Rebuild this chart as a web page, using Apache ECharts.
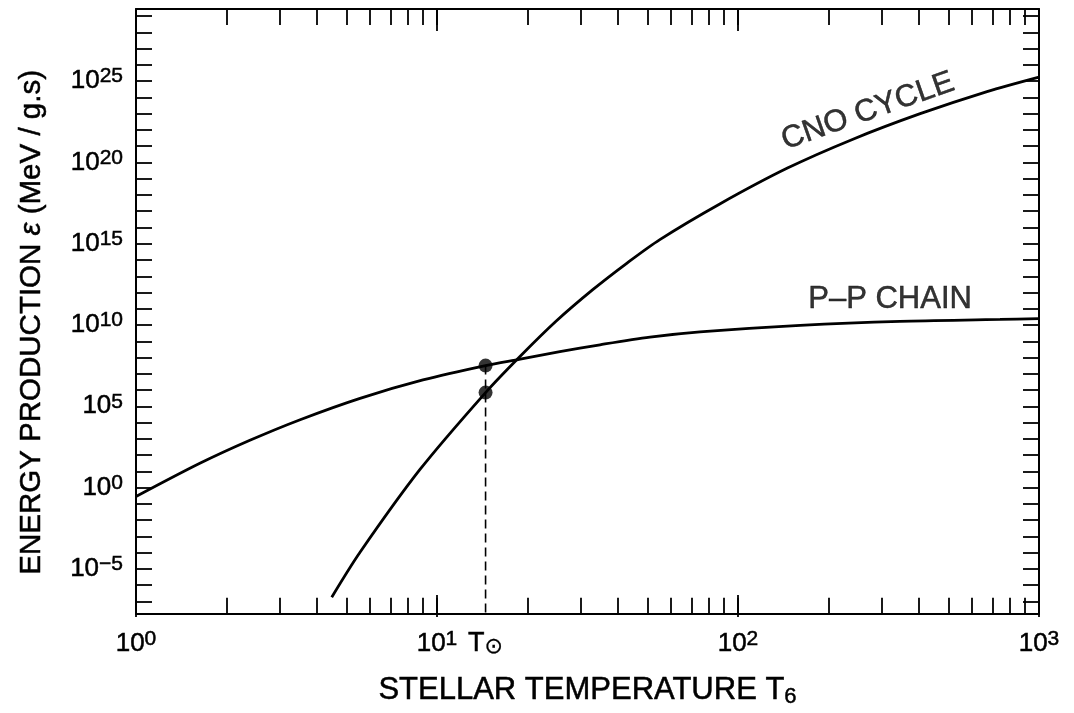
<!DOCTYPE html>
<html><head><meta charset="utf-8">
<script src="https://cdn.jsdelivr.net/npm/echarts@6/dist/echarts.min.js"></script>
<style>html,body{margin:0;padding:0;background:#fff}#c{width:1074px;height:713px}</style>
</head><body><div id="c"></div>
<script>
// ---- data ----
const ppT    = [1, 1.63, 2.39, 3.51, 5.55, 8.98, 14.5, 18.9, 25.6, 34.8, 51.0, 74.8, 161, 345, 742, 1000];
const ppEps  = [2.8e-1, 3.1e1, 8.1e2, 1.5e4, 3.1e5, 4.2e6, 3.2e7, 7.9e7, 2.3e8, 6.1e8, 1.8e9, 3.8e9, 9.6e9, 1.7e10, 2.2e10, 2.5e10];
const cnoT   = [4.47, 5.55, 8.78, 14.5, 18.9, 24.85, 33.0, 42.8, 55.0, 87.0, 146, 241, 403, 672, 1000];
const cnoEps = [1.8e-7, 1.05e-4, 1.3e1, 7.0e5, 1.2e8, 1.7e10, 1.55e12, 6.5e13, 1.8e15, 2.8e17, 4.5e19, 2.7e21, 1.0e23, 2.3e24, 1.8e25];
const T_SUN = 14.5;
const sunPP = 3.2e7;
const sunCNO = 7.0e5;
const xLabelExps = [0, 1, 2, 3];
const yLabelExps = [-5, 0, 5, 10, 15, 20, 25];
const annotations = [
  { text: 'CNO CYCLE', T: 270, eps: 1.4e23, rotate: 19.4 },
  { text: 'P\u2013P CHAIN', T: 320, eps: 3.7e11, rotate: 0 }
];
const xTitle = '{t|STELLAR TEMPERATURE T}{sub|6}';
const yTitle = '{t|ENERGY PRODUCTION }{it|\u03b5}{t| (MeV / g.s)}';

// ---- axis ranges ----
const X_MIN = 1, X_MAX = 1000;
const Y_MIN = Math.pow(10, -7.76), Y_MAX = Math.pow(10, 29.44);

const FONT = '"Liberation Sans", Arial, Helvetica, sans-serif';
const INK = '#000';
const BOLDEN = { textBorderColor: '#000', textBorderWidth: 0.5 };

function ts(o) { return Object.assign({ fontFamily: FONT, color: INK }, BOLDEN, o); }

const xMinorTicks = [];
for (let d = 0; d < 3; d++) for (let m = 1; m < 10; m++) xMinorTicks.push(m * Math.pow(10, d));
xMinorTicks.push(1000);
const xMajorTicks = xLabelExps.map(e => Math.pow(10, e));
const yTicks = [];
for (let e = -7; e <= 29; e++) yTicks.push(Math.pow(10, e));
const yLabelVals = yLabelExps.map(e => Math.pow(10, e));
const xLabelVals = xMajorTicks.concat([T_SUN]);

function expLabel(v) {
  const e = Math.round(Math.log10(v));
  return '{b|10}{s|' + (e < 0 ? '\u2212' + (-e) : e) + '}';
}
const labelRich = {
  b: ts({ fontSize: 26, lineHeight: 30 }),
  s: ts({ fontSize: 21, lineHeight: 12, verticalAlign: 'top' }),
  t: ts({ fontSize: 27, lineHeight: 30 }),
  o: ts({ fontSize: 22, lineHeight: 20, verticalAlign: 'bottom', fontFamily: '"DejaVu Sans", sans-serif', textBorderWidth: 0.3 })
};

const lineAxis = { show: true, lineStyle: { color: INK, width: 2 } };
function tick(vals, len) {
  return { show: true, inside: true, length: len, customValues: vals, lineStyle: { color: INK, width: 1.8 } };
}

const gridRect = { left: 136, right: 35, top: 9, bottom: 96 };

const option = {
  animation: false,
  backgroundColor: '#fff',
  grid: [Object.assign({}, gridRect), Object.assign({}, gridRect)],
  xAxis: [
    {
      type: 'log', gridIndex: 0, position: 'bottom', min: X_MIN, max: X_MAX,
      axisLine: lineAxis, axisTick: tick(xMinorTicks, 16), splitLine: { show: false },
      axisLabel: {
        customValues: xLabelVals, margin: 15, rich: labelRich,
        formatter: v => (Math.abs(v - T_SUN) < 1e-6 ? '{t|T}{o|\u2299}' : expLabel(v))
      },
      name: xTitle, nameLocation: 'middle', nameGap: 60,
      nameTextStyle: {
        rich: {
          t: ts({ fontSize: 31, lineHeight: 34 }),
          sub: ts({ fontSize: 22, lineHeight: 22, verticalAlign: 'bottom' })
        }
      }
    },
    {
      type: 'log', gridIndex: 0, position: 'top', min: X_MIN, max: X_MAX,
      axisLine: lineAxis, axisTick: tick(xMinorTicks, 16), axisLabel: { show: false }, splitLine: { show: false }
    },
    {
      type: 'log', gridIndex: 1, position: 'bottom', min: X_MIN, max: X_MAX,
      axisLine: { show: false }, axisTick: tick(xMajorTicks, 22), axisLabel: { show: false }, splitLine: { show: false }
    },
    {
      type: 'log', gridIndex: 1, position: 'top', min: X_MIN, max: X_MAX,
      axisLine: { show: false }, axisTick: tick(xMajorTicks, 22), axisLabel: { show: false }, splitLine: { show: false }
    }
  ],
  yAxis: [
    {
      type: 'log', gridIndex: 0, position: 'left', min: Y_MIN, max: Y_MAX,
      axisLine: lineAxis, axisTick: tick(yTicks, 16), splitLine: { show: false },
      axisLabel: { customValues: yLabelVals, margin: 13, rich: labelRich, formatter: expLabel },
      name: yTitle, nameLocation: 'middle', nameGap: 87, nameRotate: 90,
      nameTextStyle: {
        padding: [0, 22, 0, 0],
        rich: {
          t: ts({ fontSize: 29.5, lineHeight: 34 }),
          it: ts({ fontSize: 29.5, lineHeight: 34, fontStyle: 'italic' })
        }
      }
    },
    {
      type: 'log', gridIndex: 0, position: 'right', min: Y_MIN, max: Y_MAX,
      axisLine: lineAxis, axisTick: tick(yTicks, 16), axisLabel: { show: false }, splitLine: { show: false }
    },
    {
      type: 'log', gridIndex: 1, position: 'left', min: Y_MIN, max: Y_MAX, show: false
    }
  ],
  series: [
    {
      name: 'P-P chain', type: 'line', xAxisIndex: 0, yAxisIndex: 0,
      data: ppT.map((t, i) => [t, ppEps[i]]),
      smooth: 0.3, symbol: 'none',
      lineStyle: { color: '#000', width: 2.8 }
    },
    {
      name: 'CNO cycle', type: 'line', xAxisIndex: 0, yAxisIndex: 0,
      data: cnoT.map((t, i) => [t, cnoEps[i]]),
      smooth: 0.3, symbol: 'none',
      lineStyle: { color: '#000', width: 2.8 }
    },
    {
      name: 'T sun', type: 'line', xAxisIndex: 0, yAxisIndex: 0,
      data: [[T_SUN, sunPP], [T_SUN, Y_MIN]], symbol: 'none',
      lineStyle: { color: '#000', width: 1.6, type: [9, 5] }
    },
    {
      name: 'Sun', type: 'scatter', xAxisIndex: 0, yAxisIndex: 0, z: 5,
      data: [[T_SUN, sunPP], [T_SUN, sunCNO]], symbol: 'circle', symbolSize: 14,
      itemStyle: { color: '#000' }
    },
    {
      name: 'labels', type: 'scatter', xAxisIndex: 0, yAxisIndex: 0, symbolSize: 0, silent: true,
      data: annotations.map(a => ({
        value: [a.T, a.eps],
        label: Object.assign({ show: true, position: 'inside', formatter: a.text, rotate: a.rotate,
                 fontSize: 31, fontFamily: FONT, color: INK }, BOLDEN)
      }))
    }
  ]
};
const chart = echarts.init(document.getElementById('c'), null, { renderer: 'canvas' });
chart.setOption(option);
</script>
</body></html>
